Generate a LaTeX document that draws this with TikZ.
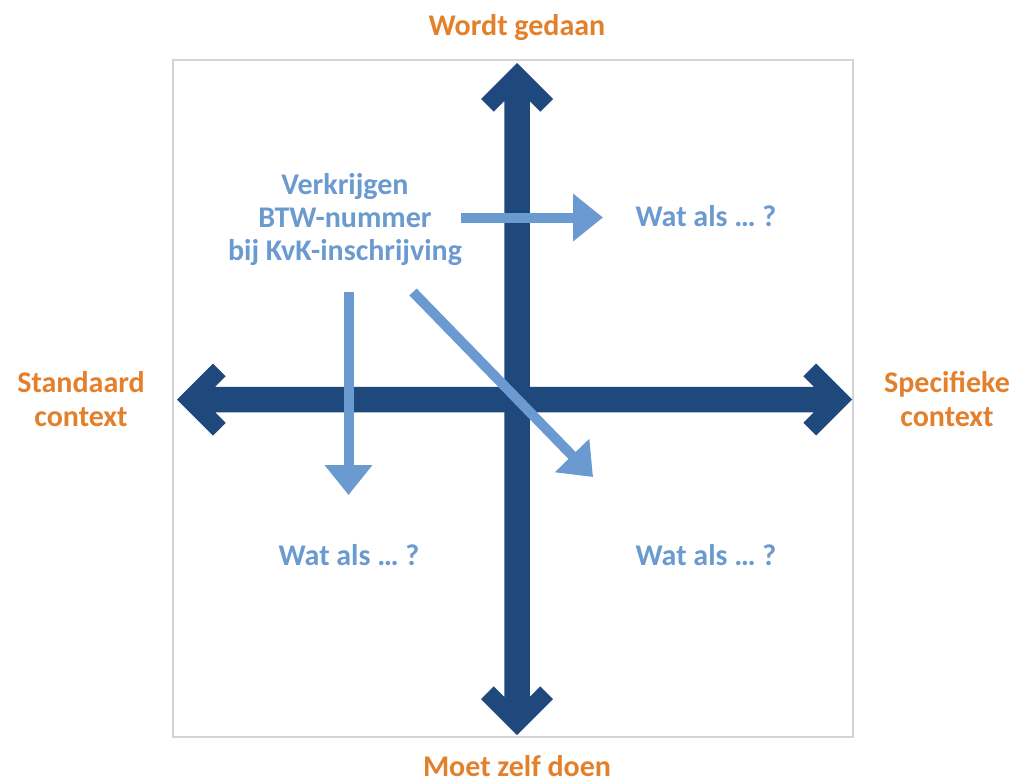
\documentclass[tikz,border=0pt]{standalone}
\usepackage{fontspec}
\setmainfont{Carlito}
\usetikzlibrary{arrows.meta}

\definecolor{axisblue}{HTML}{1F497D}
\definecolor{paleblue}{HTML}{6A9AD0}
\definecolor{labelorange}{HTML}{E47F2C}
\definecolor{framegray}{HTML}{D4D4D4}

% outline of a double-headed axis arrow, centred on the origin,
% tips at (-#1,0) and (#1,0), with chevron-shaped heads
\newcommand{\axisshape}[1]{%
  (#1,0) -- ({#1-36},36) -- ({#1-48.7},23.3) -- ({#1-38.15},12.75)
  -- ({-#1+38.15},12.75) -- ({-#1+48.7},23.3) -- ({-#1+36},36)
  -- ({-#1},0) -- ({-#1+36},-36) -- ({-#1+48.7},-23.3) -- ({-#1+38.15},-12.75)
  -- ({#1-38.15},-12.75) -- ({#1-48.7},-23.3) -- ({#1-36},-36) -- cycle}

\tikzset{
  axislabel/.style={font=\fontsize{30}{34}\selectfont\bfseries, text=labelorange,
    align=center, inner sep=0pt},
  whatif/.style={font=\fontsize{30}{33}\selectfont\bfseries, text=paleblue,
    align=center, inner sep=0pt},
  framebox/.style={draw=framegray, line width=2pt},
  shiftarrow/.style={draw=paleblue, line width=10pt,
    -{Triangle[length=30pt,width=46pt]}, paleblue},
}

\begin{document}
\begin{tikzpicture}[x=1pt, y=-1pt]
  \useasboundingbox (0,0) rectangle (1016,782);

  % frame
  \draw[framebox] (173,60) rectangle (853,737);

  % axes
  \fill[axisblue, shift={(514.5,399.5)}] \axisshape{337.5};
  \fill[axisblue, shift={(517,399)}, rotate=90] \axisshape{336};

  % axis labels
  \node[axislabel, anchor=base] (done) at (517,35) {Wordt gedaan};
  \node[axislabel, anchor=base] (self) at (517,776) {Moet zelf doen};
  \node[axislabel] (standard) at (81,399) {Standaard\\context};
  \node[axislabel] (specific) at (947,399) {Specifieke\\context};

  % case and its variations
  \node[whatif] (case) at (345,220) {Verkrijgen\\BTW-nummer\\bij KvK-inschrijving};
  \node[whatif, anchor=base] (wa) at (706,226) {Wat als … ?};
  \node[whatif, anchor=base] (wb) at (349,565) {Wat als … ?};
  \node[whatif, anchor=base] (wc) at (706,565) {Wat als … ?};

  \coordinate (ha) at (461,217.5);
  \coordinate (hb) at (603,217.5);
  \coordinate (va) at (348.5,292);
  \coordinate (vb) at (348.5,495);
  \coordinate (da) at (413,292);
  \coordinate (db) at (593,477);

  \draw[shiftarrow] (ha) -- (hb);
  \draw[shiftarrow] (va) -- (vb);
  \draw[shiftarrow] (da) -- (db);
\end{tikzpicture}
\end{document}
